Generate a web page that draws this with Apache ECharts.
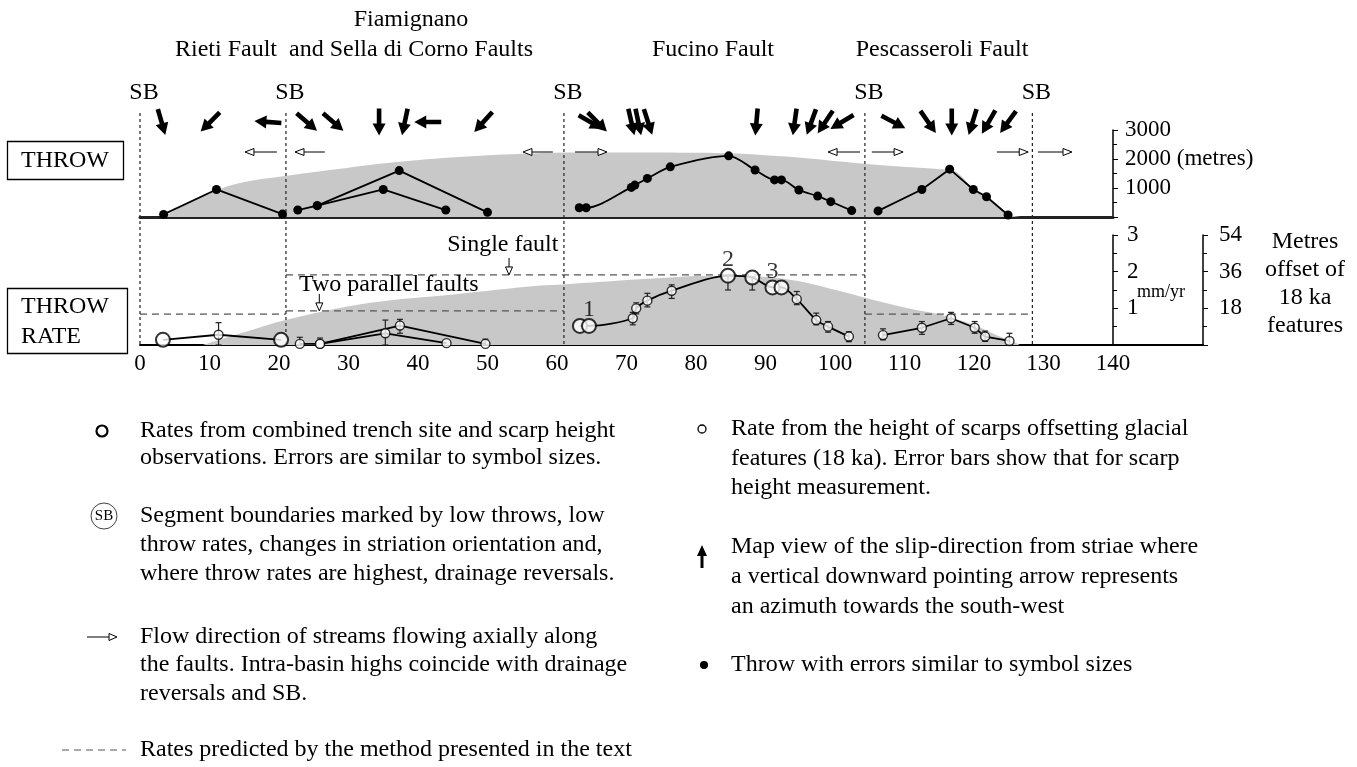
<!DOCTYPE html>
<html><head><meta charset="utf-8">
<script src="https://cdn.jsdelivr.net/npm/echarts@6/dist/echarts.min.js"></script>
<style>html,body{margin:0;padding:0;background:#fff}#c{width:1357px;height:767px}</style>
</head><body><div id="c"></div>
<script>
// ================= DATA =================
const segmentBoundaries = [0, 21, 61, 104.3, 128.4];

// Throw (metres) along strike (km)
const rietiThrowX = [3.4, 11.0, 20.5];
const rietiThrowY = [90, 950, 100];
const fiamAThrowX = [22.7, 25.5, 37.3, 50.0];
const fiamAThrowY = [240, 390, 1600, 160];
const fiamBThrowX = [25.5, 35.0, 44.0];
const fiamBThrowY = [390, 950, 240];
const fucinoThrowX = [63.2, 64.2, 70.7, 71.2, 73.0, 76.3, 84.7, 88.5, 91.3, 92.3, 94.8, 97.5, 99.4, 102.4];
const fucinoThrowY = [320, 320, 1020, 1100, 1330, 1730, 2110, 1620, 1280, 1280, 930, 720, 530, 220];
const pescThrowX = [106.2, 112.5, 116.5, 119.9, 121.8, 124.9];
const pescThrowY = [210, 950, 1650, 950, 700, 70];

// Throw envelope (grey)
const throwEnvX = [3.4, 8, 12.5, 16, 20.1, 27.3, 36.9, 46.5, 56.1, 63.3, 72, 80, 86, 91.1, 95.9, 100.7, 104.3, 110.3, 115.1, 116.6, 119.9, 121.8, 124.9, 126.6];
const throwEnvY = [0, 600, 1050, 1250, 1390, 1620, 1900, 2080, 2190, 2220, 2225, 2215, 2190, 2110, 2030, 1915, 1835, 1720, 1650, 1640, 1000, 730, 100, 0];

// Throw rate (mm/yr); kind: T = trench site (large circle), S = scarp (small circle)
const rietiRateX = [3.3, 11.3, 20.3];
const rietiRateY = [0.14, 0.28, 0.14];
const rietiRateKind = ['T', 'S', 'T'];
const fiamARateX = [23.0, 25.9, 37.4, 49.7];
const fiamARateY = [0.03, 0.03, 0.53, 0.03];
const fiamARateKind = ['S', 'S', 'S', 'S'];
const fiamBRateX = [25.9, 35.3, 44.1];
const fiamBRateY = [0.03, 0.32, 0.05];
const fiamBRateKind = ['S', 'S', 'S'];
const fucinoRateX = [63.3, 64.6, 70.9, 71.4, 73.0, 76.5, 84.6, 88.1, 91.0, 92.3, 94.5, 97.3, 99.0, 102.0];
const fucinoRateY = [0.52, 0.52, 0.73, 1.00, 1.21, 1.48, 1.89, 1.84, 1.57, 1.57, 1.25, 0.68, 0.50, 0.23];
const fucinoRateKind = ['T', 'T', 'S', 'S', 'S', 'S', 'T', 'T', 'T', 'T', 'S', 'S', 'S', 'S'];
const pescRateX = [106.9, 112.5, 116.7, 120.1, 121.6, 125.1];
const pescRateY = [0.27, 0.47, 0.73, 0.47, 0.23, 0.11];
const pescRateKind = ['S', 'S', 'S', 'S', 'S', 'S'];

// Error bars on scarp-derived rates
const errX  = [11.3, 23.0, 25.9, 35.3, 37.4, 49.7, 70.9, 71.4, 73.0, 76.5, 84.6, 88.1, 94.5, 97.3, 99.0, 102.0, 106.9, 112.5, 116.7, 120.1, 121.6, 125.1];
const errLo = [0.00, 0.00, 0.00, 0.00, 0.32, 0.00, 0.55, 0.85, 1.04, 1.27, 1.50, 1.50, 1.10, 0.55, 0.35, 0.09, 0.14, 0.29, 0.56, 0.32, 0.10, 0.00];
const errHi = [0.61, 0.21, 0.19, 0.68, 0.70, 0.16, 0.89, 1.15, 1.41, 1.64, 1.91, 1.86, 1.46, 0.87, 0.64, 0.36, 0.44, 0.64, 0.89, 0.64, 0.38, 0.32];

// Rate envelope (grey)
const rateEnvX = [9, 15, 21.1, 33.1, 45.1, 57.6, 60.9, 71.9, 81.5, 88, 91.1, 95.9, 100.7, 104.3, 110.3, 115.1, 119.9, 123.7, 125.7, 126.6];
const rateEnvY = [0, 0.35, 0.69, 1.15, 1.38, 1.62, 1.65, 1.79, 1.88, 1.87, 1.84, 1.70, 1.47, 1.29, 1.01, 0.83, 0.55, 0.23, 0.09, 0];

// Predicted rates (dashed)
const predFrom = [0, 21, 21, 104.3];
const predTo   = [21, 61, 104.3, 128.4];
const predRate = [0.84, 0.93, 1.91, 0.84];

// Slip-direction arrows: position (km) and screen direction (deg, 0 = right, 90 = down)
const slipX   = [3.1, 10.1, 18.4, 24.0, 27.8, 34.4, 38.1, 41.4, 49.4, 64.8, 65.8, 70.7, 71.7, 73.1, 88.7, 94.2, 96.6, 98.6, 101.0, 108.4, 113.4, 116.8, 119.8, 122.1, 124.9];
const slipDeg = [74, 135, 184, 41, 41, 90, 102, 180, 132, 30, 45, 77, 78, 72, 95, 98, 110, 124, 149, 28, 55, 90, 107, 120, 126];

// Stream flow arrows (from -> to, km)
const flowFrom = [19.7, 26.6, 59.4, 103.6, 62.6, 105.3, 123.3, 129.2];
const flowTo   = [15.1, 22.3, 55.1, 99.0, 67.2, 109.8, 127.8, 134.1];

// Site numbers
const siteLabel = ['1', '2', '3'];
const siteX = [64.6, 84.6, 91.0];
const siteY = [0.52, 1.89, 1.57];

// Annotations
const noteText = ['Single fault', 'Two parallel faults'];
const noteArrowX = [53.1, 25.8];
const noteArrowTip = [1.91, 0.93];
const noteTextX = [52.2, 35.8];
const noteTextY = [2.73, 1.64];

// Axis ticks
const kmTicks = [0, 10, 20, 30, 40, 50, 60, 70, 80, 90, 100, 110, 120, 130, 140];
const throwTicks = [1000, 2000, 3000];
const rateTicks = [1, 2, 3];
const offsetTicks = [18, 36, 54];

// Texts
const faultTitles = ['Rieti Fault', 'Fiamignano', 'and Sella di Corno Faults', 'Fucino Fault', 'Pescasseroli Fault'];
const legendLeft = [
  'Rates from combined trench site and scarp height',
  'observations. Errors are similar to symbol sizes.',
  'Segment boundaries marked by low throws, low',
  'throw rates, changes in striation orientation and,',
  'where throw rates are highest, drainage reversals.',
  'Flow direction of streams flowing axially along',
  'the faults. Intra-basin highs coincide with drainage',
  'reversals and SB.',
  'Rates predicted by the method presented in the text'
];
const legendRight = [
  'Rate from the height of scarps offsetting glacial',
  'features (18 ka). Error bars show that for scarp',
  'height measurement.',
  'Map view of the slip-direction from striae where',
  'a vertical downward pointing arrow represents',
  'an azimuth towards the south-west',
  'Throw with errors similar to symbol sizes'
];

// ================= CHART =================
const FONT = '"Liberation Serif", "DejaVu Serif", serif';
const FS = 24;
const zip = (X, Y) => X.map((x, i) => [x, Y[i]]);
const chart = echarts.init(document.getElementById('c'), null, {renderer: 'canvas'});

function txt(text, x, y, opt) {
  return Object.assign({type: 'text', x: x, y: y, silent: true,
    style: Object.assign({text: text, fontSize: FS, fontFamily: FONT, fill: '#000', align: 'left', verticalAlign: 'middle'}, opt || {})});
}

const axisLbl = {fontSize: 23, fontFamily: FONT, color: '#000'};
const blackLine = {color: '#000', width: 1.5};

const series = [];
// grey envelopes
series.push({type: 'line', xAxisIndex: 0, yAxisIndex: 0, data: zip(throwEnvX, throwEnvY), smooth: 0.35,
  symbol: 'none', lineStyle: {width: 0}, areaStyle: {color: '#c8c8c8', opacity: 1}, silent: true, z: 1});
series.push({type: 'line', xAxisIndex: 1, yAxisIndex: 1, data: zip(rateEnvX, rateEnvY), smooth: 0.35,
  symbol: 'none', lineStyle: {width: 0}, areaStyle: {color: '#c8c8c8', opacity: 1}, silent: true, z: 1});

// throw lines
[[rietiThrowX, rietiThrowY, 0], [fiamAThrowX, fiamAThrowY, 0], [fiamBThrowX, fiamBThrowY, 0],
 [fucinoThrowX, fucinoThrowY, 0.3], [pescThrowX, pescThrowY, 0]].forEach(function (d) {
  series.push({type: 'line', xAxisIndex: 0, yAxisIndex: 0, data: zip(d[0], d[1]), smooth: d[2],
    symbol: 'circle', symbolSize: 9, itemStyle: {color: '#000'}, lineStyle: {color: '#000', width: 1.8}, z: 5, silent: true});
});

// predicted dashed
predFrom.forEach(function (x0, i) {
  series.push({type: 'line', xAxisIndex: 1, yAxisIndex: 1, data: [[x0, predRate[i]], [predTo[i], predRate[i]]],
    symbol: 'none', lineStyle: {color: '#555', width: 1.2, type: [7, 5]}, z: 3, silent: true});
});

// rate lines + markers
const rateSets = [[rietiRateX, rietiRateY, rietiRateKind, 0], [fiamARateX, fiamARateY, fiamARateKind, 0],
  [fiamBRateX, fiamBRateY, fiamBRateKind, 0], [fucinoRateX, fucinoRateY, fucinoRateKind, 0.3], [pescRateX, pescRateY, pescRateKind, 0]];
const smallPts = [], bigPts = [];
rateSets.forEach(function (d) {
  series.push({type: 'line', xAxisIndex: 1, yAxisIndex: 1, data: zip(d[0], d[1]), smooth: d[3],
    symbol: 'none', lineStyle: {color: '#000', width: 1.8}, z: 5, silent: true});
  d[0].forEach(function (x, i) { (d[2][i] === 'T' ? bigPts : smallPts).push([x, d[1][i]]); });
});

// error bars
series.push({type: 'custom', xAxisIndex: 1, yAxisIndex: 1, z: 6, silent: true,
  data: errX.map(function (x, i) { return [x, errLo[i], errHi[i]]; }),
  renderItem: function (params, api) {
    const p1 = api.coord([api.value(0), api.value(1)]);
    const p2 = api.coord([api.value(0), api.value(2)]);
    const c = 3, st = {stroke: '#222', lineWidth: 1.2};
    return {type: 'group', children: [
      {type: 'line', shape: {x1: p1[0], y1: p1[1], x2: p2[0], y2: p2[1]}, style: st},
      {type: 'line', shape: {x1: p2[0] - c, y1: p2[1], x2: p2[0] + c, y2: p2[1]}, style: st},
      {type: 'line', shape: {x1: p1[0] - c, y1: p1[1], x2: p1[0] + c, y2: p1[1]}, style: st}
    ]};
  }});

series.push({type: 'scatter', xAxisIndex: 1, yAxisIndex: 1, data: smallPts, symbolSize: 9, z: 8, silent: true,
  itemStyle: {color: '#fff', borderColor: '#000', borderWidth: 1.4}});
series.push({type: 'scatter', xAxisIndex: 1, yAxisIndex: 1, data: bigPts, symbolSize: 14, z: 9, silent: true,
  itemStyle: {color: '#fff', borderColor: '#000', borderWidth: 2}});

// site numbers
series.push({type: 'scatter', xAxisIndex: 1, yAxisIndex: 1, symbolSize: 0, z: 10, silent: true,
  data: siteX.map(function (x, i) { return {value: [x, siteY[i]], name: siteLabel[i]}; }),
  label: {show: true, position: 'top', distance: 4, formatter: '{b}', fontSize: FS, fontFamily: FONT, color: '#000'}});

// annotations
series.push({type: 'custom', xAxisIndex: 1, yAxisIndex: 1, z: 10, silent: true,
  data: noteText.map(function (t, i) { return [noteArrowX[i], noteArrowTip[i], noteTextX[i], noteTextY[i]]; }),
  renderItem: function (params, api) {
    const tip = api.coord([api.value(0), api.value(1)]);
    const tp = api.coord([api.value(2), api.value(3)]);
    const x = tip[0], y = tip[1];
    return {type: 'group', children: [
      {type: 'line', shape: {x1: x, y1: y - 17, x2: x, y2: y - 8}, style: {stroke: '#000', lineWidth: 1}},
      {type: 'polygon', shape: {points: [[x - 3.5, y - 8], [x + 3.5, y - 8], [x, y]]}, style: {fill: '#fff', stroke: '#000', lineWidth: 1}},
      {type: 'text', style: {text: noteText[params.dataIndex], x: tp[0], y: tp[1], align: 'center', verticalAlign: 'middle',
        fontSize: FS, fontFamily: FONT, fill: '#000'}}
    ]};
  }});

// overlay: SB lines, slip arrows, flow arrows
series.push({type: 'custom', xAxisIndex: 3, yAxisIndex: 3, z: 4, silent: true,
  data: segmentBoundaries.map(function (x) { return [x, 0]; }),
  renderItem: function (params, api) {
    const x = api.coord([api.value(0), 0])[0];
    const cs = params.coordSys;
    return {type: 'group', children: [
      {type: 'line', shape: {x1: x, y1: cs.y + 23, x2: x, y2: cs.y + cs.height}, style: {stroke: '#222', lineWidth: 1.2, lineDash: [3, 3]}},
      {type: 'text', style: {text: 'SB', x: x + 4, y: cs.y + 3, align: 'center', verticalAlign: 'middle', fontSize: FS, fontFamily: FONT, fill: '#000'}}
    ]};
  }});
series.push({type: 'custom', xAxisIndex: 3, yAxisIndex: 3, z: 6, silent: true,
  data: slipX.map(function (x, i) { return [x, slipDeg[i]]; }),
  renderItem: function (params, api) {
    const cx = api.coord([api.value(0), 0])[0];
    const cy = params.coordSys.y + 32;
    const a = api.value(1) * Math.PI / 180, ca = Math.cos(a), sa = Math.sin(a);
    const L = 27, hw = 2.3, hl = 12, hh = 6.5;
    const local = [[-L / 2, -hw], [L / 2 - hl, -hw], [L / 2 - hl, -hh], [L / 2, 0], [L / 2 - hl, hh], [L / 2 - hl, hw], [-L / 2, hw]];
    const pts = local.map(function (p) { return [cx + p[0] * ca - p[1] * sa, cy + p[0] * sa + p[1] * ca]; });
    return {type: 'polygon', shape: {points: pts}, style: {fill: '#000'}};
  }});
series.push({type: 'custom', xAxisIndex: 3, yAxisIndex: 3, z: 6, silent: true,
  data: flowFrom.map(function (x, i) { return [x, flowTo[i]]; }),
  renderItem: function (params, api) {
    const x1 = api.coord([api.value(0), 0])[0];
    const x2 = api.coord([api.value(1), 0])[0];
    const y = params.coordSys.y + 62;
    const d = x2 > x1 ? 1 : -1;
    return {type: 'group', children: [
      {type: 'line', shape: {x1: x1, y1: y, x2: x2 - d * 8, y2: y}, style: {stroke: '#000', lineWidth: 1}},
      {type: 'polygon', shape: {points: [[x2 - d * 9, y - 3.5], [x2, y], [x2 - d * 9, y + 3.5]]}, style: {fill: '#fff', stroke: '#000', lineWidth: 1}}
    ]};
  }});

// ================= GRAPHIC (titles, boxes, legend) =================
const g = [];
g.push(txt(faultTitles[0], 226, 50, {align: 'center'}));
g.push(txt(faultTitles[1], 411, 20, {align: 'center'}));
g.push(txt(faultTitles[2], 411, 50, {align: 'center'}));
g.push(txt(faultTitles[3], 713, 50, {align: 'center'}));
g.push(txt(faultTitles[4], 942, 50, {align: 'center'}));
g.push({type: 'rect', shape: {x: 7.5, y: 141.5, width: 116, height: 38}, style: {fill: 'none', stroke: '#000', lineWidth: 1.3}});
g.push(txt('THROW', 65, 161, {align: 'center'}));
g.push({type: 'rect', shape: {x: 7.5, y: 288.5, width: 120, height: 65}, style: {fill: 'none', stroke: '#000', lineWidth: 1.3}});
g.push(txt('THROW', 21, 307));
g.push(txt('RATE', 21, 337));
g.push(txt('mm/yr', 1137, 292, {fontSize: 18}));
g.push(txt('Metres\noffset of\n18 ka\nfeatures', 1305, 228, {align: 'center', verticalAlign: 'top', lineHeight: 28}));

// legend left
const LX = 140;
const leftY = [431, 458, 516, 545, 574, 637, 665, 694, 750];
legendLeft.forEach(function (t, i) { g.push(txt(t, LX, leftY[i])); });
g.push({type: 'circle', shape: {cx: 102, cy: 431, r: 5.5}, style: {fill: '#fff', stroke: '#000', lineWidth: 2.2}});
g.push({type: 'circle', shape: {cx: 104, cy: 516, r: 13}, style: {fill: '#fff', stroke: '#444', lineWidth: 1}});
g.push(txt('SB', 104, 516, {align: 'center', fontSize: 15}));
g.push({type: 'line', shape: {x1: 87, y1: 637, x2: 109, y2: 637}, style: {stroke: '#000', lineWidth: 1}});
g.push({type: 'polygon', shape: {points: [[109, 633.5], [117, 637], [109, 640.5]]}, style: {fill: '#fff', stroke: '#000', lineWidth: 1}});
g.push({type: 'line', shape: {x1: 62, y1: 750, x2: 126, y2: 750}, style: {stroke: '#555', lineWidth: 1.2, lineDash: [7, 5]}});

// legend right
const RX = 731;
const rightY = [429, 459, 488, 547, 577, 607, 665];
legendRight.forEach(function (t, i) { g.push(txt(t, RX, rightY[i])); });
g.push({type: 'circle', shape: {cx: 702, cy: 429, r: 4}, style: {fill: '#fff', stroke: '#000', lineWidth: 1.3}});
g.push({type: 'polygon', shape: {points: [[700.5, 568], [700.5, 556], [697, 556], [702, 545], [707, 556], [703.5, 556], [703.5, 568]]}, style: {fill: '#000'}});
g.push({type: 'circle', shape: {cx: 704, cy: 665, r: 4}, style: {fill: '#000'}});

const option = {
  backgroundColor: '#fff',
  animation: false,
  grid: [
    {left: 140, width: 973, top: 130, height: 87},
    {left: 140, width: 973, top: 235, height: 110},
    {left: 1113, width: 90, top: 235, height: 110},
    {left: 140, width: 973, top: 90, height: 255}
  ],
  xAxis: [
    {gridIndex: 0, type: 'value', min: 0, max: 140, axisLine: {lineStyle: {color: '#222', width: 3}}, axisTick: {show: false}, axisLabel: {show: false}, splitLine: {show: false}},
    {gridIndex: 1, type: 'value', min: 0, max: 140, interval: 10, axisLine: {lineStyle: {color: '#000', width: 2}}, axisTick: {show: false},
      axisLabel: Object.assign({margin: 7, customValues: kmTicks}, axisLbl), splitLine: {show: false}},
    {gridIndex: 2, type: 'value', min: 0, max: 1, axisLine: {lineStyle: {color: '#000', width: 2}}, axisTick: {show: false}, axisLabel: {show: false}, splitLine: {show: false}},
    {gridIndex: 3, type: 'value', min: 0, max: 140, show: false}
  ],
  yAxis: [
    {gridIndex: 0, type: 'value', position: 'right', min: 0, max: 3000, interval: 1000,
      axisLine: {show: true, onZero: false, lineStyle: blackLine}, axisTick: {show: true, length: 5, lineStyle: {color: '#000'}},
      minorTick: {show: true, splitNumber: 2, length: 4, lineStyle: {color: '#000'}},
      axisLabel: Object.assign({margin: 12, customValues: throwTicks, formatter: function (v) { return v === 2000 ? '2000 (metres)' : String(v); }}, axisLbl),
      splitLine: {show: false}, minorSplitLine: {show: false}},
    {gridIndex: 1, type: 'value', position: 'right', min: 0, max: 3, interval: 1,
      axisLine: {show: true, onZero: false, lineStyle: blackLine}, axisTick: {show: true, length: 5, lineStyle: {color: '#000'}},
      minorTick: {show: true, splitNumber: 2, length: 4, lineStyle: {color: '#000'}},
      axisLabel: Object.assign({margin: 14, customValues: rateTicks}, axisLbl),
      splitLine: {show: false}, minorSplitLine: {show: false}},
    {gridIndex: 2, type: 'value', position: 'right', min: 0, max: 54, interval: 18,
      axisLine: {show: true, onZero: false, lineStyle: blackLine}, axisTick: {show: true, length: 5, lineStyle: {color: '#000'}},
      minorTick: {show: true, splitNumber: 2, length: 4, lineStyle: {color: '#000'}},
      axisLabel: Object.assign({margin: 16, customValues: offsetTicks}, axisLbl),
      splitLine: {show: false}, minorSplitLine: {show: false}},
    {gridIndex: 3, type: 'value', min: 0, max: 1, show: false}
  ],
  series: series,
  graphic: g
};
chart.setOption(option);
</script>
</body></html>
